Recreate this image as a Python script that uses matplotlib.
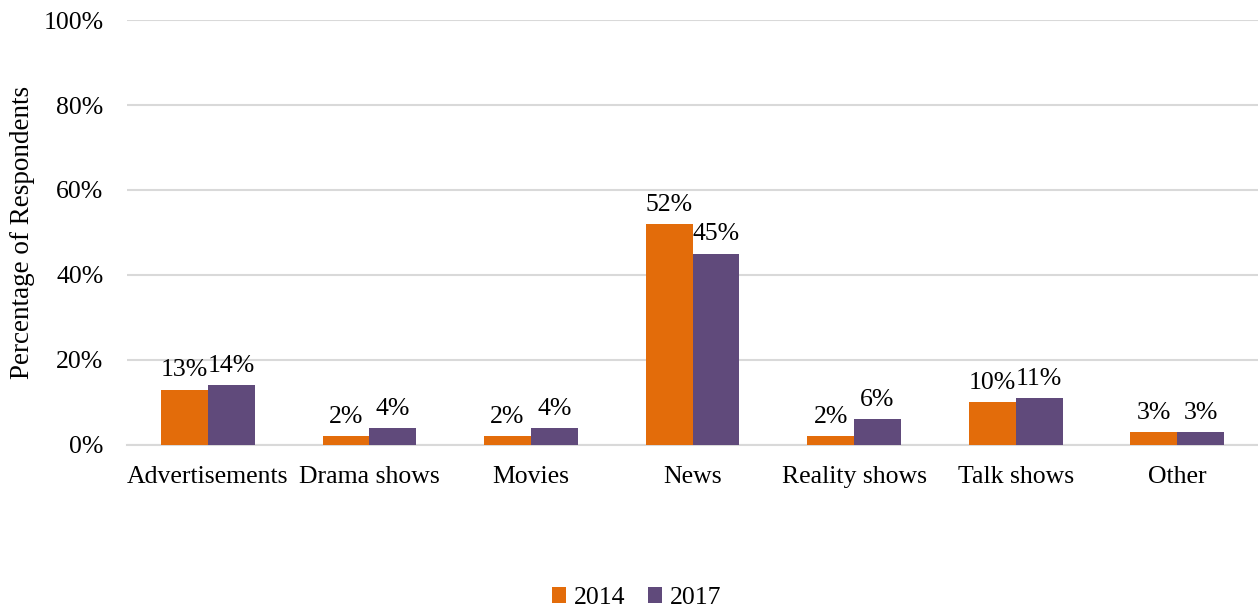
import numpy as np
import matplotlib.pyplot as plt
from matplotlib.ticker import PercentFormatter

categories = ["Advertisements", "Drama shows", "Movies", "News",
              "Reality shows", "Talk shows", "Other"]
pct_2014 = [13, 2, 2, 52, 2, 10, 3]
pct_2017 = [14, 4, 4, 45, 6, 11, 3]

plt.rcParams["font.family"] = ["Liberation Serif", "DejaVu Serif"]
fs = 18.5

fig = plt.figure(figsize=(12.58, 6.07), dpi=100)
ax = fig.add_axes([0.101, 0.267, 0.899, 0.70])

x = np.arange(len(categories))
w = 0.29
b1 = ax.bar(x - w / 2, pct_2014, w, color="#E36C0A", label="2014", zorder=3)
b2 = ax.bar(x + w / 2, pct_2017, w, color="#604A7B", label="2017", zorder=3)

for bars, vals in [(b1, pct_2014), (b2, pct_2017)]:
    for rect, v in zip(bars, vals):
        ax.annotate(f"{v}%", (rect.get_x() + rect.get_width() / 2, v),
                    xytext=(0, 6), textcoords="offset points",
                    ha="center", va="bottom", fontsize=fs)

ax.set_xlim(-0.5, len(categories) - 0.5)
ax.set_ylim(0, 100)
ax.set_yticks(range(0, 101, 20))
ax.yaxis.set_major_formatter(PercentFormatter(decimals=0))
ax.set_xticks(x)
ax.set_xticklabels(categories)
ax.tick_params(axis="both", length=0, labelsize=fs)
ax.tick_params(axis="y", pad=17)
ax.tick_params(axis="x", pad=15)
ax.grid(axis="y", color="#D9D9D9", linewidth=1.5, zorder=0)
ax.set_ylabel("Percentage of Respondents", fontsize=19.5, labelpad=6)
for side in ["top", "right", "left"]:
    ax.spines[side].set_visible(False)
ax.spines["bottom"].set_color("#D9D9D9")
ax.spines["bottom"].set_linewidth(1.5)

fig.legend(loc="center", bbox_to_anchor=(0.506, 0.015), ncol=2, frameon=False,
           fontsize=fs, handlelength=0.55, handleheight=0.55, handletextpad=0.3,
           columnspacing=0.9)

fig.savefig("out.png", dpi=100)
